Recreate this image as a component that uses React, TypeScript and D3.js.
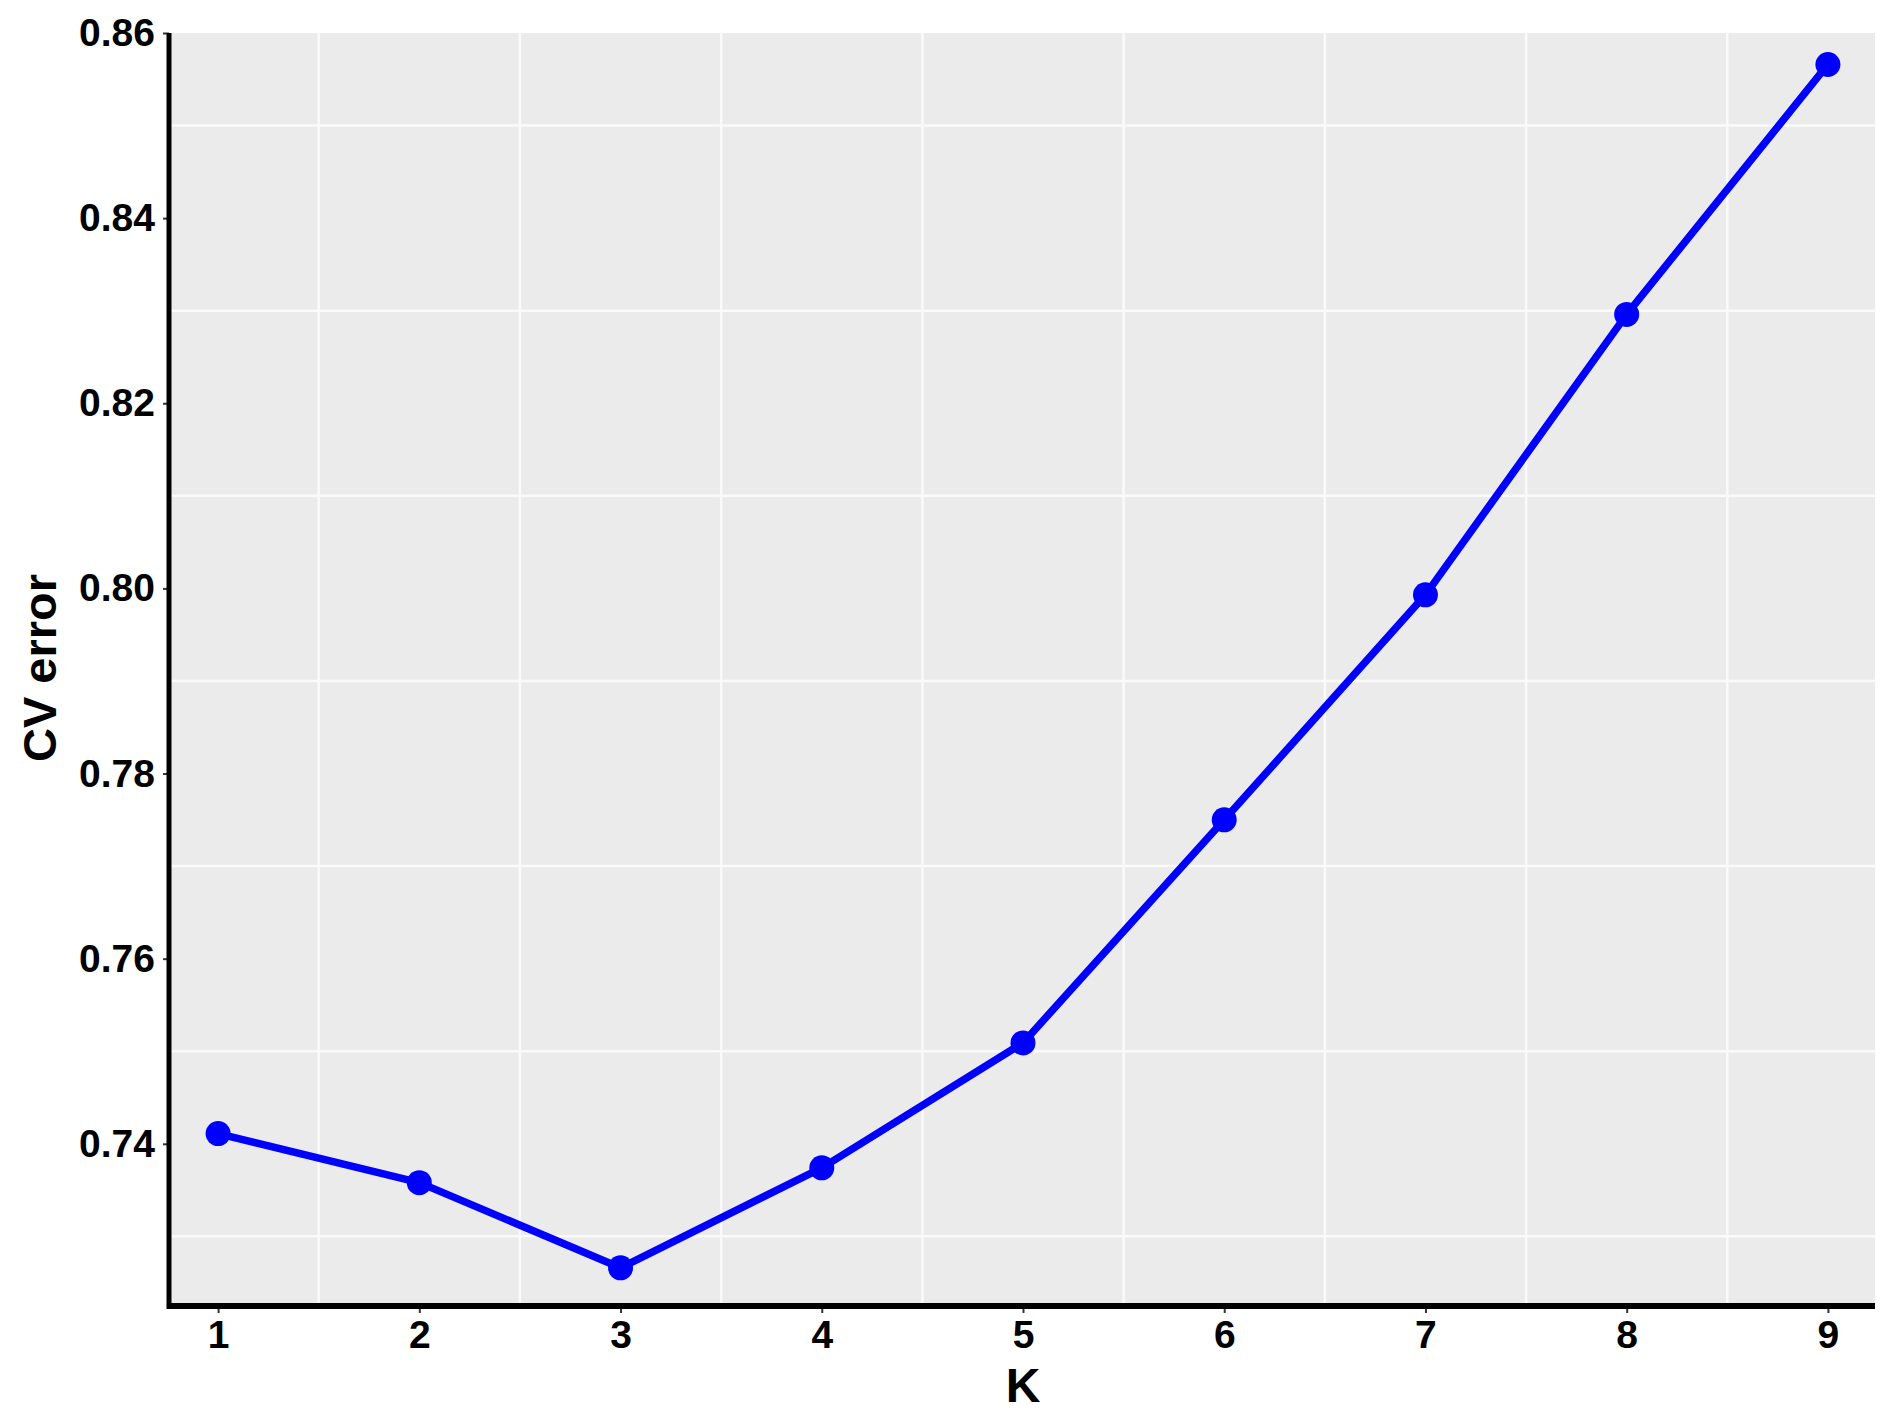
import React, { useEffect, useRef } from 'react';
import * as d3 from 'd3';

// values
const kValues = [1, 2, 3, 4, 5, 6, 7, 8, 9];
const cvError = [0.7411, 0.7358, 0.7266, 0.7374, 0.7509, 0.775, 0.7993, 0.8296, 0.8566];
const yTicks = [0.74, 0.76, 0.78, 0.8, 0.82, 0.84, 0.86];
const yMinor = [0.73, 0.75, 0.77, 0.79, 0.81, 0.83, 0.85];
const xMinor = [1.5, 2.5, 3.5, 4.5, 5.5, 6.5, 7.5, 8.5];

const W = 1901;
const H = 1417;
const FONT = '"Liberation Sans", Arial, sans-serif';

export default function App() {
    const ref = useRef<SVGSVGElement>(null);

    useEffect(() => {
        document.body.style.margin = '0';

        const left = 171, right = 1875, top = 33, bottom = 1303;

        const x = d3.scaleLinear().domain([0.766, 9.234]).range([left, right]);
        const y = d3.scaleLinear().domain([0.7228, 0.86]).range([bottom, top]);

        const svg = d3.select(ref.current)
            .attr('width', W)
            .attr('height', H)
            .style('background-color', 'white');
        svg.selectAll('*').remove();

        // panel
        svg.append('rect')
            .attr('x', left).attr('y', top)
            .attr('width', right - left).attr('height', bottom - top)
            .attr('fill', '#EBEBEB');

        // grid lines (only the minor ones show in the picture)
        const grid = svg.append('g');
        grid.selectAll('line.h')
            .data(yMinor)
            .join('line')
                .attr('x1', left).attr('x2', right)
                .attr('y1', d => y(d)).attr('y2', d => y(d))
                .attr('stroke', '#FAFAFA').attr('stroke-width', 2.5);
        grid.selectAll('line.v')
            .data(xMinor)
            .join('line')
                .attr('class', 'v')
                .attr('y1', top).attr('y2', bottom)
                .attr('x1', d => x(d)).attr('x2', d => x(d))
                .attr('stroke', '#FAFAFA').attr('stroke-width', 2.5);

        // axes
        const yAxis = svg.append('g')
            .attr('transform', `translate(${left - 2},0)`)
            .call(d3.axisLeft(y).tickValues(yTicks).tickFormat(d3.format('.2f')).tickSize(6).tickPadding(8));
        yAxis.select('.domain').remove();
        yAxis.selectAll('line').attr('stroke', '#333').attr('stroke-width', 2);
        yAxis.selectAll('text')
            .attr('font-family', FONT).attr('font-size', 39).attr('font-weight', 'bold').attr('fill', 'black');

        const xAxis = svg.append('g')
            .attr('transform', `translate(0,${bottom + 3})`)
            .call(d3.axisBottom(x).tickValues(kValues).tickFormat(d3.format('d')).tickSize(7).tickPadding(7));
        xAxis.select('.domain').remove();
        xAxis.selectAll('line').attr('stroke', '#333').attr('stroke-width', 2);
        xAxis.selectAll('text')
            .attr('font-family', FONT).attr('font-size', 39).attr('font-weight', 'bold').attr('fill', 'black');

        svg.append('line')
            .attr('x1', left - 2).attr('x2', left - 2)
            .attr('y1', top).attr('y2', bottom + 6)
            .attr('stroke', 'black').attr('stroke-width', 5);
        svg.append('line')
            .attr('x1', left - 4).attr('x2', right)
            .attr('y1', bottom + 3).attr('y2', bottom + 3)
            .attr('stroke', 'black').attr('stroke-width', 6);

        // axis titles
        svg.append('text')
            .attr('x', (left + right) / 2).attr('y', 1402)
            .attr('text-anchor', 'middle')
            .attr('font-family', FONT).attr('font-size', 48).attr('font-weight', 'bold')
            .text('K');
        svg.append('text')
            .attr('transform', `translate(56,${(top + bottom) / 2}) rotate(-90)`)
            .attr('text-anchor', 'middle')
            .attr('font-family', FONT).attr('font-size', 47).attr('font-weight', 'bold')
            .text('CV error');

        // line + points
        const pts = kValues.map((k, i) => [k, cvError[i]] as [number, number]);
        const line = d3.line<[number, number]>().x(d => x(d[0])).y(d => y(d[1]));
        svg.append('path')
            .attr('d', line(pts))
            .attr('fill', 'none')
            .attr('stroke', '#0000FF')
            .attr('stroke-width', 7.5)
            .attr('stroke-linejoin', 'round');
        svg.append('g')
            .selectAll('circle')
            .data(pts)
            .join('circle')
                .attr('cx', d => x(d[0]))
                .attr('cy', d => y(d[1]))
                .attr('r', 12.5)
                .attr('fill', '#0000FF');
    }, []);

    return (
        <div>
            <svg ref={ref}></svg>
        </div>
    );
}
